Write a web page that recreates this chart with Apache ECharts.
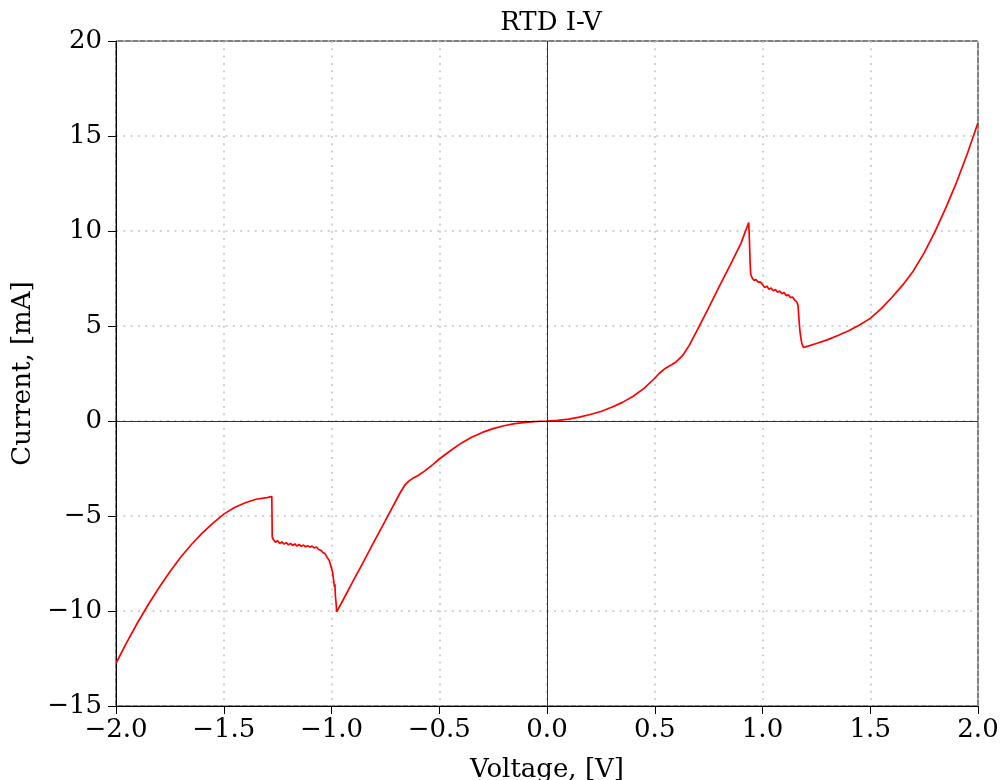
<!DOCTYPE html>
<html>
<head>
<meta charset="utf-8">
<script src="https://cdn.jsdelivr.net/npm/echarts@6/dist/echarts.min.js"></script>
<style>
html,body{margin:0;padding:0;background:#fff;}
#chart{width:1000px;height:780px;}
</style>
</head>
<body>
<div id="chart"></div>
<script>
const titleText = 'RTD I-V';
const xName = 'Voltage, [V]';
const yName = 'Current, [mA]';
const xTicks = [-2.0, -1.5, -1.0, -0.5, 0.0, 0.5, 1.0, 1.5, 2.0];
const yTicks = [-15, -10, -5, 0, 5, 10, 15, 20];

const voltage = [
 -2.0,-1.95,-1.9,-1.85,-1.8,-1.75,-1.7,-1.65,-1.6,-1.55,
 -1.5,-1.45,-1.4,-1.35,-1.3,-1.277,-1.276,-1.275,-1.27,-1.26,
 -1.25,-1.24,-1.23,-1.22,-1.21,-1.2,-1.19,-1.18,-1.17,-1.16,
 -1.15,-1.14,-1.13,-1.12,-1.11,-1.1,-1.09,-1.08,-1.07,-1.06,
 -1.05,-1.04,-1.03,-1.02,-1.01,-1.0,-0.995,-0.99,-0.986,-0.984,
 -0.982,-0.979,-0.976,-0.95,-0.9,-0.85,-0.8,-0.75,-0.72,-0.7,
 -0.68,-0.66,-0.64,-0.62,-0.6,-0.57,-0.53,-0.5,-0.45,-0.4,
 -0.35,-0.3,-0.25,-0.2,-0.15,-0.1,-0.05,0,0.05,0.1,
 0.15,0.2,0.25,0.3,0.35,0.4,0.45,0.5,0.52,0.55,
 0.58,0.6,0.63,0.66,0.7,0.75,0.8,0.85,0.9,0.936,
 0.938,0.94,0.942,0.945,0.95,0.96,0.97,0.98,0.99,1.0,
 1.01,1.02,1.03,1.04,1.05,1.06,1.07,1.08,1.09,1.1,
 1.11,1.12,1.13,1.14,1.15,1.16,1.165,1.168,1.171,1.174,
 1.177,1.182,1.19,1.2,1.25,1.3,1.35,1.4,1.45,1.5,
 1.55,1.6,1.65,1.7,1.75,1.8,1.85,1.9,1.95,2.0
];
const current = [
 -12.75,-11.65,-10.62,-9.66,-8.76,-7.93,-7.17,-6.5,-5.9,-5.37,
 -4.9,-4.55,-4.3,-4.12,-4.03,-3.98,-5.0,-6.1,-6.24,-6.38,
 -6.3,-6.45,-6.36,-6.48,-6.4,-6.52,-6.44,-6.55,-6.47,-6.58,
 -6.5,-6.6,-6.53,-6.62,-6.56,-6.64,-6.58,-6.68,-6.63,-6.76,
 -6.8,-6.92,-6.98,-7.18,-7.35,-7.75,-7.95,-8.4,-8.75,-8.6,
 -9.2,-9.55,-10.05,-9.5,-8.43,-7.37,-6.3,-5.24,-4.6,-4.17,
 -3.75,-3.38,-3.15,-3.0,-2.88,-2.65,-2.3,-2.0,-1.58,-1.18,
 -0.86,-0.6,-0.4,-0.25,-0.14,-0.07,-0.025,0,0.03,0.1,
 0.2,0.34,0.5,0.72,0.98,1.3,1.72,2.25,2.5,2.78,
 2.97,3.12,3.45,3.98,4.85,5.95,7.1,8.2,9.35,10.45,
 9.9,9.3,8.5,7.75,7.58,7.4,7.44,7.3,7.32,7.18,
 7.02,7.1,6.94,7.0,6.85,6.92,6.78,6.84,6.7,6.76,
 6.6,6.64,6.5,6.52,6.36,6.25,6.05,5.55,5.1,4.7,
 4.45,4.1,3.87,3.9,4.08,4.27,4.5,4.75,5.05,5.4,
 5.9,6.5,7.15,7.9,8.85,9.95,11.2,12.55,14.05,15.7
];

const seriesData = voltage.map((v, k) => [v, current[k]]);
const FONT = 'DejaVu Serif';
const minus = s => String(s).replace('-', '\u2212');

const chart = echarts.init(document.getElementById('chart'), null, {renderer: 'canvas'});
chart.setOption({
  animation: false,
  backgroundColor: '#fff',
  title: {
    text: titleText, left: 546, textAlign: 'center', top: 5,
    textStyle: {fontFamily: FONT, fontSize: 26, fontWeight: 'normal', color: '#000'}
  },
  grid: {left: 116, right: 22, top: 41, bottom: 74, containLabel: false, outerBoundsMode: 'none',
    show: true, borderColor: '#000', borderWidth: 1, backgroundColor: 'transparent'},
  xAxis: {
    type: 'value', min: xTicks[0], max: xTicks[xTicks.length - 1], interval: 0.5,
    name: xName, nameLocation: 'middle', nameGap: 51,
    nameTextStyle: {fontFamily: FONT, fontSize: 26, color: '#000'},
    axisLine: {show: true, onZero: false, lineStyle: {color: '#000', width: 1}},
    axisTick: {show: true, inside: false, length: 8, lineStyle: {color: '#000', width: 1}},
    axisLabel: {fontFamily: FONT, fontSize: 26, color: '#000', margin: 11,
      formatter: v => minus(v.toFixed(1))},
    splitLine: {show: true, lineStyle: {color: '#c4c4c4', width: 1.5, type: [2, 5.3]}}
  },
  yAxis: {
    type: 'value', min: yTicks[0], max: yTicks[yTicks.length - 1], interval: 5,
    name: yName, nameLocation: 'middle', nameGap: 68,
    nameTextStyle: {fontFamily: FONT, fontSize: 26, color: '#000'},
    axisLine: {show: true, onZero: false, lineStyle: {color: '#000', width: 1}},
    axisTick: {show: true, inside: false, length: 8, lineStyle: {color: '#000', width: 1}},
    axisLabel: {fontFamily: FONT, fontSize: 26, color: '#000', margin: 14,
      formatter: v => minus(v)},
    splitLine: {show: true, lineStyle: {color: '#c4c4c4', width: 1.5, type: [2, 5.3]}}
  },
  series: [{
    type: 'line',
    data: seriesData,
    showSymbol: false,
    symbol: 'none',
    smooth: false,
    lineStyle: {color: '#ff0000', width: 1.7},
    z: 3,
    markLine: {
      silent: true, symbol: 'none', animation: false,
      label: {show: false},
      lineStyle: {color: '#000', width: 1, type: 'solid', opacity: 0.8},
      data: [{xAxis: 0}, {yAxis: 0}]
    }
  }]
});
</script>
</body>
</html>
